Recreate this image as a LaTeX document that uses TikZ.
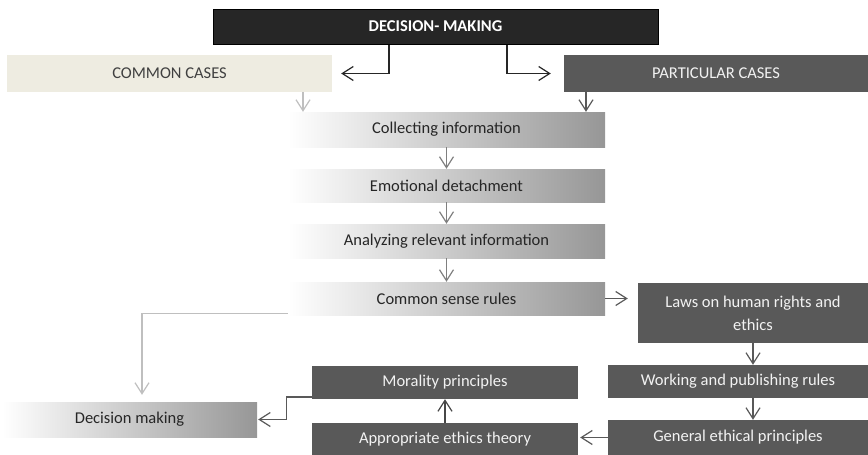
\documentclass[tikz,border=0pt]{standalone}
\usepackage{fontspec}
\setmainfont{Carlito}
\usetikzlibrary{arrows.meta}

\definecolor{titlefill}{HTML}{262626}
\definecolor{darkfill}{HTML}{595959}
\definecolor{beigefill}{HTML}{EEECE1}
\definecolor{lightline}{HTML}{BFBFBF}
\definecolor{midline}{HTML}{7F7F7F}

\begin{document}
\begin{tikzpicture}[
    x=1pt,y=-1pt,
    every node/.append style={font=\fontsize{16.5}{23}\selectfont,inner sep=0pt,align=center},
    darkbox/.style={fill=darkfill,text=white!95!black},
    fadebox/.style={left color=white,middle color=black!13,right color=black!41,text=titlefill},
    link/.style={line width=1.2pt,-{Straight Barb[length=11pt,width=14pt]}},
    darklink/.style={link,draw=darkfill},
    lightlink/.style={link,draw=lightline},
    midlink/.style={link,draw=midline}
    ]
    \useasboundingbox (0,0) rectangle (868,455);

    % top and the two kinds of cases
    \node[fill=titlefill,draw=black,line width=1pt,text=white,
        minimum width=445pt,minimum height=35pt,font=\fontsize{16.5}{18}\selectfont\bfseries]
        (title) at (435.5,26.5) {DECISION- MAKING};
    \node[fill=beigefill,text=black!75,minimum width=325pt,minimum height=37pt]
        (common) at (169.5,73.5) {COMMON CASES};
    \node[darkbox,minimum width=304pt,minimum height=37pt]
        (particular) at (716,73.5) {PARTICULAR CASES};
    \draw[link,draw=titlefill,shorten >=9pt] ([xshift=-46.5pt]title.south) |- (common.east);
    \draw[link,draw=titlefill,shorten >=13pt] ([xshift=71.5pt]title.south) |- (particular.west);

    % steps in the middle
    \node[fadebox,minimum width=317pt,minimum height=35pt] (collect) at (446.5,129.5) {Collecting information};
    \node[fadebox,minimum width=317pt,minimum height=33pt] (detach) at (446.5,185.5) {Emotional detachment};
    \node[fadebox,minimum width=317pt,minimum height=34pt] (analyze) at (446.5,241) {Analyzing relevant information};
    \node[fadebox,minimum width=317pt,minimum height=33pt] (sense) at (446.5,298.5) {Common sense rules};
    \draw[lightlink] ([xshift=133.5pt]common.south) -- ([xshift=-143.5pt]collect.north);
    \draw[darklink] ([xshift=-130pt]particular.south) -- ([xshift=139.5pt]collect.north);
    \draw[midlink] (collect) -- (detach);
    \draw[midlink] (detach) -- (analyze);
    \draw[midlink] (analyze) -- (sense);

    % particular path on the right
    \node[darkbox,minimum width=230pt,minimum height=60pt] (laws) at (753,313) {Laws on human rights and\\ethics};
    \node[darkbox,minimum width=260pt,minimum height=33pt] (working) at (738,381.5) {Working and publishing rules};
    \node[darkbox,minimum width=260pt,minimum height=35pt] (general) at (738,437.5) {General ethical principles};
    \draw[darklink,shorten >=10pt] (sense.east) -- (sense.east -| laws.west);
    \draw[darklink] (laws.south) -- (laws.south |- working.north);
    \draw[darklink] ([xshift=15pt]working.south) -- ([xshift=15pt]general.north);

    % theory and morality
    \node[darkbox,minimum width=266pt,minimum height=33pt] (morality) at (445,382.5) {Morality principles};
    \node[darkbox,minimum width=266pt,minimum height=32pt] (theory) at (445,439) {Appropriate ethics theory};
    \draw[darklink,shorten >=2pt] (general.west) -- (general.west -| theory.east);
    \draw[link,draw=titlefill!85] (theory) -- (morality);

    % final decision
    \node[fadebox,minimum width=255pt,minimum height=35pt] (decision) at (129.5,419.5) {Decision making};
    \draw[darklink,shorten >=1pt] ([yshift=-14.5pt]morality.west) -- ++(-25,0) |- (decision.east);
    \draw[lightlink,shorten >=7pt] ([yshift=2pt]sense.south west) -| ([xshift=12.5pt]decision.north);

\end{tikzpicture}
\end{document}
